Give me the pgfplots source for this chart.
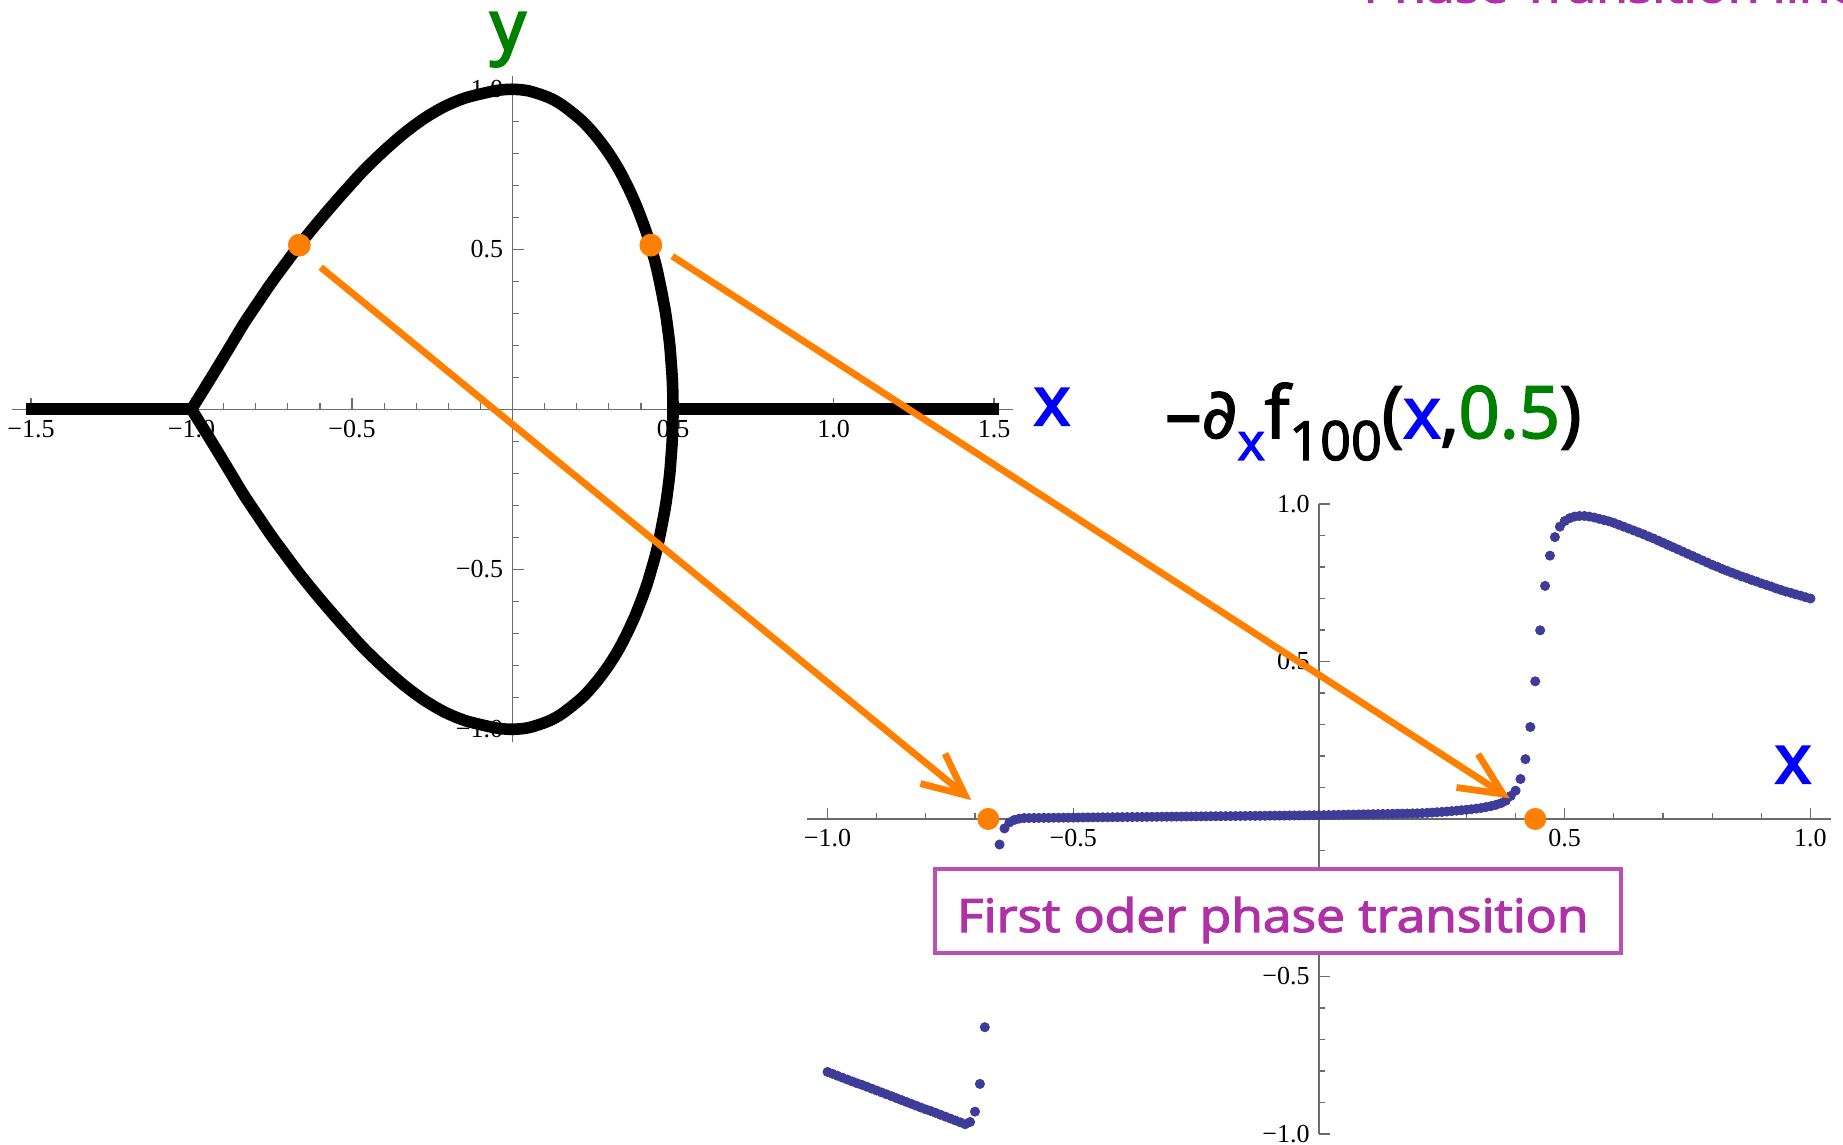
\documentclass[border=0pt]{standalone}
\usepackage{pgfplots}
\pgfplotsset{compat=1.18}
\usepackage{fontspec}
\setmainfont{Liberation Serif}
\newfontfamily\hand{Open Sans}[FakeBold=2.5]
\newfontfamily\handb{Open Sans}[FakeBold=3.5]
\newfontfamily\djv{DejaVu Sans}[FakeBold=1.5]

\definecolor{mmaorange}{rgb}{1,0.5,0}
\definecolor{mmablue}{rgb}{0.24,0.24,0.6}
\definecolor{axgray}{gray}{0.42}
\definecolor{labgreen}{rgb}{0,0.5,0}
\definecolor{magtext}{RGB}{176,48,168}
\definecolor{magbox}{RGB}{188,80,178}

% Mathematica-like axes crossing at the origin
\pgfplotsset{
  mma/.style={
    scale only axis, clip=false,
    axis lines=middle,
    axis line style={axgray, line width=0.6pt, -},
    every inner x axis line/.append style={-},
    every inner y axis line/.append style={-},
    tick style={axgray, line width=0.6pt},
    tick align=inside,
    major tick length=5.5pt, minor tick length=3.2pt,
    ticklabel style={font=\fontsize{13}{13}\selectfont, text=black, inner sep=0pt},
    xticklabel style={anchor=base, yshift=-14pt},
    yticklabel style={anchor=east, xshift=-4.5pt},
  }
}

\begin{document}
\begin{tikzpicture}
\useasboundingbox (0,0) rectangle (921.5pt,572.5pt);
\clip (0,0) rectangle (921.5pt,572.5pt);

% ---- phase diagram in the (x,y) plane ----
\begin{axis}[mma,
  at={(5.87pt,201.45pt)}, anchor=south west,
  width=500.76pt, height=332.8pt,
  xmin=-1.56, xmax=1.56, ymin=-1.04, ymax=1.04,
  xtick={-1.5,-1,-0.5,0.5,1,1.5},
  xticklabels={−1.5,−1.0,−0.5,0.5,1.0,1.5},
  minor xtick={-1.4,-1.3,-1.2,-1.1,-0.9,-0.8,-0.7,-0.6,-0.4,-0.3,-0.2,-0.1,0.1,0.2,0.3,0.4,0.6,0.7,0.8,0.9,1.1,1.2,1.3,1.4},
  ytick={-1,-0.5,0.5,1},
  yticklabels={−1.0,−0.5,0.5,1.0},
  minor ytick={-0.9,-0.8,-0.7,-0.6,-0.4,-0.3,-0.2,-0.1,0.1,0.2,0.3,0.4,0.6,0.7,0.8,0.9},
]
\addplot[black, line width=5.8pt, smooth, line cap=round, line join=round] coordinates {
  (-1.000,0.000) (-0.959,0.066) (-0.918,0.133) (-0.877,0.201) (-0.836,0.269)
  (-0.794,0.332) (-0.752,0.394) (-0.708,0.454) (-0.664,0.513) (-0.615,0.574)
  (-0.565,0.633) (-0.514,0.691) (-0.462,0.748) (-0.400,0.808) (-0.337,0.863)
  (-0.275,0.909) (-0.212,0.946) (-0.150,0.972) (-0.088,0.988) (-0.044,0.997)
  (0.000,1.000) (0.050,0.995) (0.111,0.975) (0.156,0.950) (0.218,0.900)
  (0.263,0.850) (0.300,0.800) (0.331,0.750) (0.357,0.700) (0.380,0.650)
  (0.400,0.600) (0.418,0.550) (0.433,0.500) (0.447,0.450) (0.458,0.400)
  (0.468,0.350) (0.477,0.300) (0.484,0.250) (0.490,0.200) (0.494,0.150)
  (0.4975,0.100) (0.4994,0.050) (0.500,0.000)
  (0.4994,-0.050) (0.4975,-0.100) (0.494,-0.150) (0.490,-0.200) (0.484,-0.250)
  (0.477,-0.300) (0.468,-0.350) (0.458,-0.400) (0.447,-0.450) (0.433,-0.500)
  (0.418,-0.550) (0.400,-0.600) (0.380,-0.650) (0.357,-0.700) (0.331,-0.750)
  (0.300,-0.800) (0.263,-0.850) (0.218,-0.900) (0.156,-0.950) (0.111,-0.975)
  (0.050,-0.995) (0.000,-1.000) (-0.044,-0.997) (-0.088,-0.988) (-0.150,-0.972)
  (-0.212,-0.946) (-0.275,-0.909) (-0.337,-0.863) (-0.400,-0.808) (-0.462,-0.748)
  (-0.514,-0.691) (-0.565,-0.633) (-0.615,-0.574) (-0.664,-0.513) (-0.708,-0.454)
  (-0.752,-0.394) (-0.794,-0.332) (-0.836,-0.269) (-0.877,-0.201) (-0.918,-0.133)
  (-0.959,-0.066) (-1.000,0.000)
};
\addplot[black, line width=5.8pt] coordinates {(-1.515,0) (-1,0)};
\addplot[black, line width=5.8pt] coordinates {(0.5,0) (1.515,0)};
\addplot[mmaorange, only marks, mark=*, mark size=5.5pt]
  coordinates {(-0.664,0.513) (0.431,0.513)};
\end{axis}

% ---- -d_x f_100(x,0.5) ----
\begin{axis}[mma,
  at={(403.45pt,5.5pt)}, anchor=south west,
  width=512.1pt, height=315pt,
  xmin=-1.042, xmax=1.042, ymin=-1, ymax=1,
  xtick={-1,-0.5,0.5,1},
  xticklabels={−1.0,−0.5,0.5,1.0},
  minor xtick={-0.9,-0.8,-0.7,-0.6,-0.4,-0.3,-0.2,-0.1,0.1,0.2,0.3,0.4,0.6,0.7,0.8,0.9},
  ytick={-1,-0.5,0.5,1},
  yticklabels={−1.0,−0.5,0.5,1.0},
  minor ytick={-0.9,-0.8,-0.7,-0.6,-0.4,-0.3,-0.2,-0.1,0.1,0.2,0.3,0.4,0.6,0.7,0.8,0.9},
]
\addplot[mmablue, only marks, mark=*, mark size=2.3pt]
  table[row sep=\\] {
  x y \\
  -1.00 -0.803 \\ -0.99 -0.809 \\ -0.98 -0.815 \\ -0.97 -0.821 \\ -0.96 -0.827 \\
  -0.95 -0.833 \\ -0.94 -0.839 \\ -0.93 -0.844 \\ -0.92 -0.850 \\ -0.91 -0.856 \\
  -0.90 -0.862 \\ -0.89 -0.868 \\ -0.88 -0.874 \\ -0.87 -0.880 \\ -0.86 -0.886 \\
  -0.85 -0.892 \\ -0.84 -0.898 \\ -0.83 -0.904 \\ -0.82 -0.910 \\ -0.81 -0.916 \\
  -0.80 -0.922 \\ -0.79 -0.927 \\ -0.78 -0.933 \\ -0.77 -0.939 \\ -0.76 -0.945 \\
  -0.75 -0.951 \\ -0.74 -0.957 \\ -0.73 -0.963 \\ -0.72 -0.969 \\ -0.71 -0.962 \\
  -0.70 -0.929 \\ -0.69 -0.841 \\ -0.68 -0.661 \\ -0.67 -0.400 \\ -0.66 -0.190 \\
  -0.65 -0.081 \\ -0.64 -0.030 \\ -0.63 -0.011 \\ -0.62 -0.003 \\ -0.61 0.001 \\
  -0.60 0.0030 \\ -0.59 0.0031 \\ -0.58 0.0033 \\ -0.57 0.0034 \\ -0.56 0.0036 \\
  -0.55 0.0037 \\ -0.54 0.0039 \\ -0.53 0.0040 \\ -0.52 0.0042 \\ -0.51 0.0043 \\
  -0.50 0.0045 \\ -0.49 0.0046 \\ -0.48 0.0048 \\ -0.47 0.0049 \\ -0.46 0.0051 \\
  -0.45 0.0052 \\ -0.44 0.0054 \\ -0.43 0.0055 \\ -0.42 0.0057 \\ -0.41 0.0058 \\
  -0.40 0.0060 \\ -0.39 0.0061 \\ -0.38 0.0063 \\ -0.37 0.0064 \\ -0.36 0.0066 \\
  -0.35 0.0067 \\ -0.34 0.0069 \\ -0.33 0.0070 \\ -0.32 0.0072 \\ -0.31 0.0073 \\
  -0.30 0.0075 \\ -0.29 0.0076 \\ -0.28 0.0078 \\ -0.27 0.0079 \\ -0.26 0.0081 \\
  -0.25 0.0082 \\ -0.24 0.0084 \\ -0.23 0.0085 \\ -0.22 0.0087 \\ -0.21 0.0088 \\
  -0.20 0.0090 \\ -0.19 0.0091 \\ -0.18 0.0093 \\ -0.17 0.0094 \\ -0.16 0.0096 \\
  -0.15 0.0097 \\ -0.14 0.0099 \\ -0.13 0.0100 \\ -0.12 0.0102 \\ -0.11 0.0103 \\
  -0.10 0.0105 \\ -0.09 0.0106 \\ -0.08 0.0108 \\ -0.07 0.0109 \\ -0.06 0.0111 \\
  -0.05 0.0112 \\ -0.04 0.0114 \\ -0.03 0.0115 \\ -0.02 0.0117 \\ -0.01 0.0118 \\
  0.00 0.0120 \\ 0.01 0.0123 \\ 0.02 0.0126 \\ 0.03 0.0129 \\ 0.04 0.0132 \\
  0.05 0.0135 \\ 0.06 0.0138 \\ 0.07 0.0141 \\ 0.08 0.0144 \\ 0.09 0.0147 \\
  0.10 0.0150 \\ 0.11 0.0153 \\ 0.12 0.0156 \\ 0.13 0.0159 \\ 0.14 0.0162 \\
  0.15 0.0165 \\ 0.16 0.0168 \\ 0.17 0.0171 \\ 0.18 0.0174 \\ 0.19 0.0177 \\
  0.20 0.0180 \\ 0.21 0.0187 \\ 0.22 0.0195 \\ 0.23 0.0204 \\ 0.24 0.0214 \\
  0.25 0.0225 \\ 0.26 0.0237 \\ 0.27 0.0250 \\ 0.28 0.0264 \\ 0.29 0.0278 \\
  0.30 0.0293 \\ 0.31 0.031 \\ 0.32 0.033 \\ 0.33 0.035 \\ 0.34 0.038 \\
  0.35 0.041 \\ 0.36 0.045 \\ 0.37 0.050 \\ 0.38 0.058 \\ 0.39 0.073 \\
  0.40 0.090 \\ 0.41 0.127 \\ 0.42 0.190 \\ 0.43 0.292 \\ 0.44 0.437 \\
  0.45 0.599 \\ 0.46 0.740 \\ 0.47 0.836 \\ 0.48 0.895 \\ 0.49 0.928 \\
  0.50 0.946 \\ 0.51 0.955 \\ 0.52 0.960 \\ 0.53 0.962 \\ 0.54 0.962 \\
  0.55 0.960 \\ 0.56 0.957 \\ 0.57 0.953 \\ 0.58 0.949 \\ 0.59 0.945 \\
  0.60 0.940 \\ 0.61 0.934 \\ 0.62 0.928 \\ 0.63 0.922 \\ 0.64 0.916 \\
  0.65 0.910 \\ 0.66 0.904 \\ 0.67 0.897 \\ 0.68 0.891 \\ 0.69 0.884 \\
  0.70 0.877 \\ 0.71 0.870 \\ 0.72 0.863 \\ 0.73 0.856 \\ 0.74 0.849 \\
  0.75 0.842 \\ 0.76 0.835 \\ 0.77 0.828 \\ 0.78 0.821 \\ 0.79 0.814 \\
  0.80 0.807 \\ 0.81 0.801 \\ 0.82 0.794 \\ 0.83 0.788 \\ 0.84 0.782 \\
  0.85 0.776 \\ 0.86 0.770 \\ 0.87 0.765 \\ 0.88 0.759 \\ 0.89 0.754 \\
  0.90 0.748 \\ 0.91 0.743 \\ 0.92 0.738 \\ 0.93 0.732 \\ 0.94 0.727 \\
  0.95 0.722 \\ 0.96 0.718 \\ 0.97 0.713 \\ 0.98 0.709 \\ 0.99 0.704 \\
  1.00 0.700 \\
};
\addplot[mmaorange, only marks, mark=*, mark size=5.3pt]
  coordinates {(-0.673,0) (0.440,0)};
\end{axis}

% ---- annotations (units: 1 = 0.5pt, origin at top left, y downwards) ----
\begin{scope}[x=0.5pt, y=-0.5pt, shift={(0,572.5pt)}]
  % arrows from the transition points to the jumps
  \draw[mmaorange, line width=3.4pt] (320.7,267.3) -- (965,795);
  \draw[mmaorange, line width=3.4pt, line join=miter] (920.4,783.6) -- (965,795) -- (945,753.6);
  \draw[mmaorange, line width=3.4pt] (672.3,256.2) -- (1503,794);
  \draw[mmaorange, line width=3.4pt, line join=miter] (1456.5,787.5) -- (1503,794) -- (1478.1,754.1);

  % axis names
  \node[anchor=base, inner sep=0pt, text=blue] at (1052,425) {\handb\fontsize{34}{34}\selectfont x};
  \node[anchor=base, inner sep=0pt, text=labgreen] at (508,50) {\handb\fontsize{35}{35}\selectfont y};
  \node[anchor=base, inner sep=0pt, text=blue] at (1793,783) {\handb\fontsize{34}{34}\selectfont x};

  % title of the right panel
  \node[anchor=base west, inner sep=0pt] at (1165,438) {\hand\fontsize{36}{36}\selectfont
    –{\djv\fontsize{35}{35}\selectfont ∂}\raisebox{-11pt}{\fontsize{26}{26}\selectfont\textcolor{blue}{x}}f\raisebox{-11pt}{\fontsize{27}{27}\selectfont 100}(\textcolor{blue}{x},\textcolor{labgreen}{0.5})};

  % boxed remark
  \draw[magbox, line width=2pt, fill=white] (934.8,869) rectangle (1621,953);
  \node[anchor=base, inner sep=0pt, text=magtext] at (1272.7,932)
    {\scalebox{1.12}[1]{\hand\fontsize{23}{23}\selectfont First oder phase transition}};

  % heading running off the top edge
  \node[anchor=base west, inner sep=0pt, text=magtext] at (1363,2.5)
    {\scalebox{1.12}[1]{\hand\fontsize{23}{23}\selectfont Phase Transition line}};
\end{scope}
\end{tikzpicture}
\end{document}
